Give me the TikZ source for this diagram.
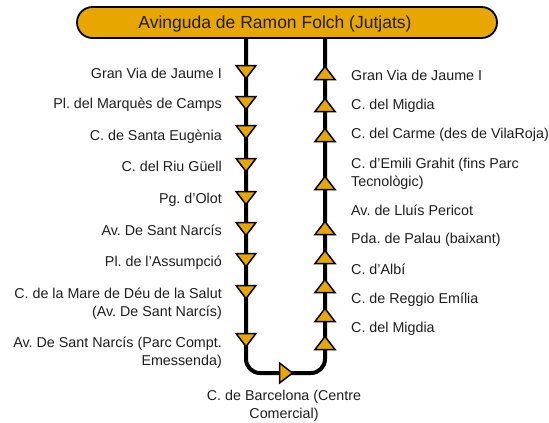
\documentclass[tikz,border=0pt]{standalone}
\usepackage{fontspec}
\setmainfont{Liberation Sans}
\frenchspacing
\definecolor{gold}{RGB}{232,166,0}
\definecolor{txt}{RGB}{30,30,30}
\tikzset{
  route/.style={line width=4bp, black, rounded corners=14bp},
  tri/.style={draw=black, line width=1.5bp, fill=gold, line join=miter},
  lbl/.style={font=\fontsize{14.3bp}{17.5bp}\selectfont\frenchspacing, text=txt, inner sep=0pt},
  topbox/.style={draw=black, line width=1.8bp, fill=gold, rounded corners=15.5bp,
    minimum width=420bp, minimum height=31bp, inner sep=0pt},
  titletext/.style={font=\fontsize{17.5bp}{20bp}\selectfont, text=txt, inner sep=0pt},
  dtri/.pic={\draw[tri] (-10,-6.5) -- (10,-6.5) -- (0,6.5) -- cycle;},
  utri/.pic={\draw[tri] (-10,6.5) -- (10,6.5) -- (0,-6.5) -- cycle;},
  rtri/.pic={\draw[tri] (-6.5,-10) -- (-6.5,10) -- (6.5,0) -- cycle;},
}
\begin{document}
\begin{tikzpicture}[x=1bp,y=-1bp]
\useasboundingbox (0,0) rectangle (549,422);
% route
\coordinate (ltop) at (246,30);
\coordinate (lbot) at (246,373);
\coordinate (rbot) at (325,373);
\coordinate (rtop) at (325,30);
\draw[route] (ltop) -- (lbot) -- (rbot) -- (rtop);
% top box
\node[topbox] (box) at (287,22.5) {};
\node[titletext, anchor=base] (title) at (275,28.3) {Avinguda de Ramon Folch (Jutjats)};
% left stops (down)
\foreach \n/\y in {1/72,2/103,3/132,4/165,5/198,6/229,7/260,8/292,9/340}
  {\coordinate (l\n) at (246,\y); \pic at (l\n) {dtri};}
% right stops (up)
\foreach \n/\y in {1/73,2/105,3/135,4/183,5/228,6/257,7/286,8/315,9/343}
  {\coordinate (r\n) at (325,\y); \pic at (r\n) {utri};}
% bottom stop
\coordinate (b1) at (286,373);
\pic at (b1) {rtri};
% left labels
\node[lbl, anchor=base east] (tl1) at (222,78) {Gran Via de Jaume I};
\node[lbl, anchor=base east] (tl2) at (222,108) {Pl. del Marquès de Camps};
\node[lbl, anchor=base east] (tl3) at (222,140) {C. de Santa Eugènia};
\node[lbl, anchor=base east] (tl4) at (222,171) {C. del Riu Güell};
\node[lbl, anchor=base east] (tl5) at (222,203) {Pg. d’Olot};
\node[lbl, anchor=base east] (tl6) at (222,235) {Av. De Sant Narcís};
\node[lbl, anchor=base east] (tl7) at (222,266) {Pl. de l’Assumpció};
\node[lbl, anchor=base east, align=right] (tl8) at (222,316) {C. de la Mare de Déu de la Salut\\(Av. De Sant Narcís)};
\node[lbl, anchor=base east, align=right] (tl9) at (222,365) {Av. De Sant Narcís (Parc Compt.\\Emessenda)};
% right labels
\node[lbl, anchor=base west] (tr1) at (351,80) {Gran Via de Jaume I};
\node[lbl, anchor=base west] (tr2) at (351,109) {C. del Migdia};
\node[lbl, anchor=base west] (tr3) at (351,138) {C. del Carme (des de VilaRoja)};
\node[lbl, anchor=base west, align=left] (tr4) at (351,186) {C. d’Emili Grahit (fins Parc\\Tecnològic)};
\node[lbl, anchor=base west] (tr5) at (351,215) {Av. de Lluís Pericot};
\node[lbl, anchor=base west] (tr6) at (351,243) {Pda. de Palau (baixant)};
\node[lbl, anchor=base west] (tr7) at (351,274) {C. d’Albí};
\node[lbl, anchor=base west] (tr8) at (351,303) {C. de Reggio Emília};
\node[lbl, anchor=base west] (tr9) at (351,332) {C. del Migdia};
% bottom label
\node[lbl, anchor=base, align=center] (tb1) at (284,418) {C. de Barcelona (Centre\\Comercial)};
\end{tikzpicture}
\end{document}
